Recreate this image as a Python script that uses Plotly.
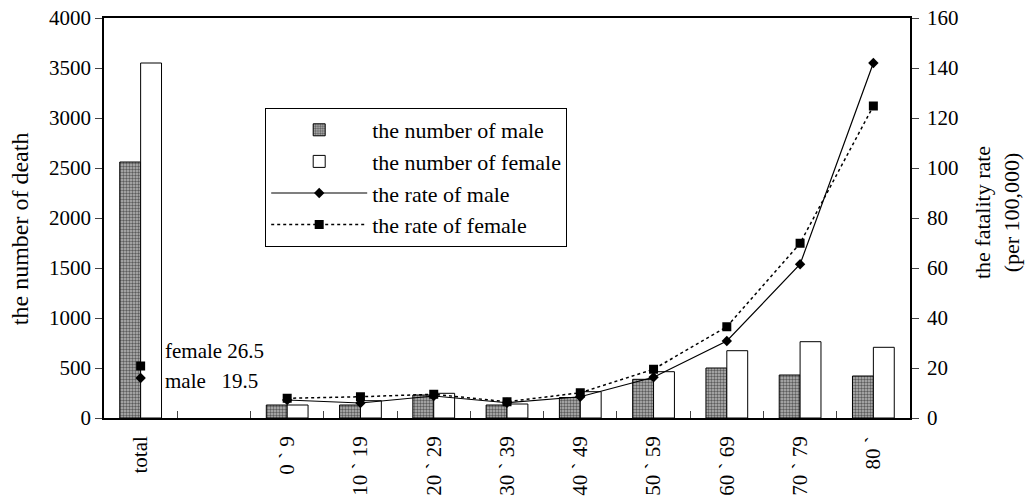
import plotly.graph_objects as go

categories = ["total", " ", "0 ` 9", "10 ` 19", "20 ` 29", "30 ` 39", "40 ` 49",
              "50 ` 59", "60 ` 69", "70 ` 79", "80 `"]
male_count = [2560, None, 130, 130, 230, 130, 205, 387, 500, 430, 420]
female_count = [3550, None, 130, 173, 247, 140, 263, 463, 673, 763, 707]
male_rate = [16.0, None, 7.2, 6.0, 8.8, 6.1, 8.5, 16.3, 30.8, 61.5, 142.0]
female_rate = [20.8, None, 7.9, 8.5, 9.5, 6.5, 10.1, 19.5, 36.5, 69.9, 124.8]

FONT = "Liberation Serif, Times New Roman, serif"

fig = go.Figure()
fig.add_trace(go.Bar(
    x=categories, y=male_count, name="the number of male",
    marker=dict(color="#888888", line=dict(color="black", width=1),
                pattern=dict(shape=".", fgcolor="#000000", bgcolor="#b8b8b8",
                             size=3, solidity=0.5)),
))
fig.add_trace(go.Bar(
    x=categories, y=female_count, name="the number of female",
    marker=dict(color="white", line=dict(color="black", width=1)),
))
fig.add_trace(go.Scatter(
    x=categories, y=male_rate, name="the rate of male", yaxis="y2",
    mode="lines+markers", connectgaps=False,
    line=dict(color="black", width=1.2),
    marker=dict(symbol="diamond", size=8, color="black"),
))
fig.add_trace(go.Scatter(
    x=categories, y=female_rate, name="the rate of female", yaxis="y2",
    mode="lines+markers", connectgaps=False,
    line=dict(color="black", width=1.5, dash="dot"),
    marker=dict(symbol="square", size=9, color="black"),
))

fig.add_annotation(x=0.073, y=26.8, xref="paper", yref="y2", text="female 26.5",
                   showarrow=False, xanchor="left", font=dict(size=21, family=FONT, color="black"))
fig.add_annotation(x=0.073, y=14.8, xref="paper", yref="y2",
                   text="male\u00a0\u00a0\u00a019.5",
                   showarrow=False, xanchor="left", font=dict(size=21, family=FONT, color="black"))
fig.add_annotation(x=1.108, y=0.5125, xref="paper", yref="paper",
                   text="the fatality rate<br>(per 100,000)", textangle=-90,
                   xanchor="center", yanchor="middle",
                   showarrow=False, font=dict(size=22, family=FONT, color="black"))
fig.add_annotation(x=-0.104, y=0.4725, xref="paper", yref="paper",
                   text="the number of death", textangle=-90,
                   xanchor="center", yanchor="middle",
                   showarrow=False, font=dict(size=24, family=FONT, color="black"))

fig.update_layout(
    width=1026, height=498,
    margin=dict(l=104, r=116, t=18, b=80, autoexpand=False),
    paper_bgcolor="white", plot_bgcolor="white",
    font=dict(family=FONT, size=21, color="black"),
    barmode="group", bargap=0.43, bargroupgap=0,
    showlegend=True,
    legend=dict(x=0.2, y=0.775, xanchor="left", yanchor="top",
                bgcolor="white", bordercolor="black", borderwidth=1,
                font=dict(size=22, family=FONT), tracegroupgap=0,
                itemwidth=96),
    xaxis=dict(type="category", categoryorder="array", categoryarray=categories,
               range=[-0.5, len(categories) - 0.5],
               tickangle=-90, tickson="boundaries", ticks="inside", ticklen=7,
               ticklabelstandoff=8,
               showline=True, linecolor="black", linewidth=1.5, mirror=True,
               showgrid=False, automargin=False, tickfont=dict(size=21, family=FONT)),
    yaxis=dict(range=[0, 4000], dtick=500, ticks="outside", ticklen=7,
               showline=True, linecolor="black", linewidth=1.5,
               showgrid=False, zeroline=False, automargin=False,
               tickfont=dict(size=21, family=FONT)),
    yaxis2=dict(range=[0, 160], dtick=20, overlaying="y", side="right",
                ticks="outside", ticklen=7, ticklabelstandoff=4,
                showline=True, linecolor="black",
                linewidth=1.5, showgrid=False, zeroline=False, automargin=False,
                tickfont=dict(size=21, family=FONT)),
)

fig.write_html("out.html", config={"displayModeBar": False},
               post_script="document.body.style.margin='0';")
